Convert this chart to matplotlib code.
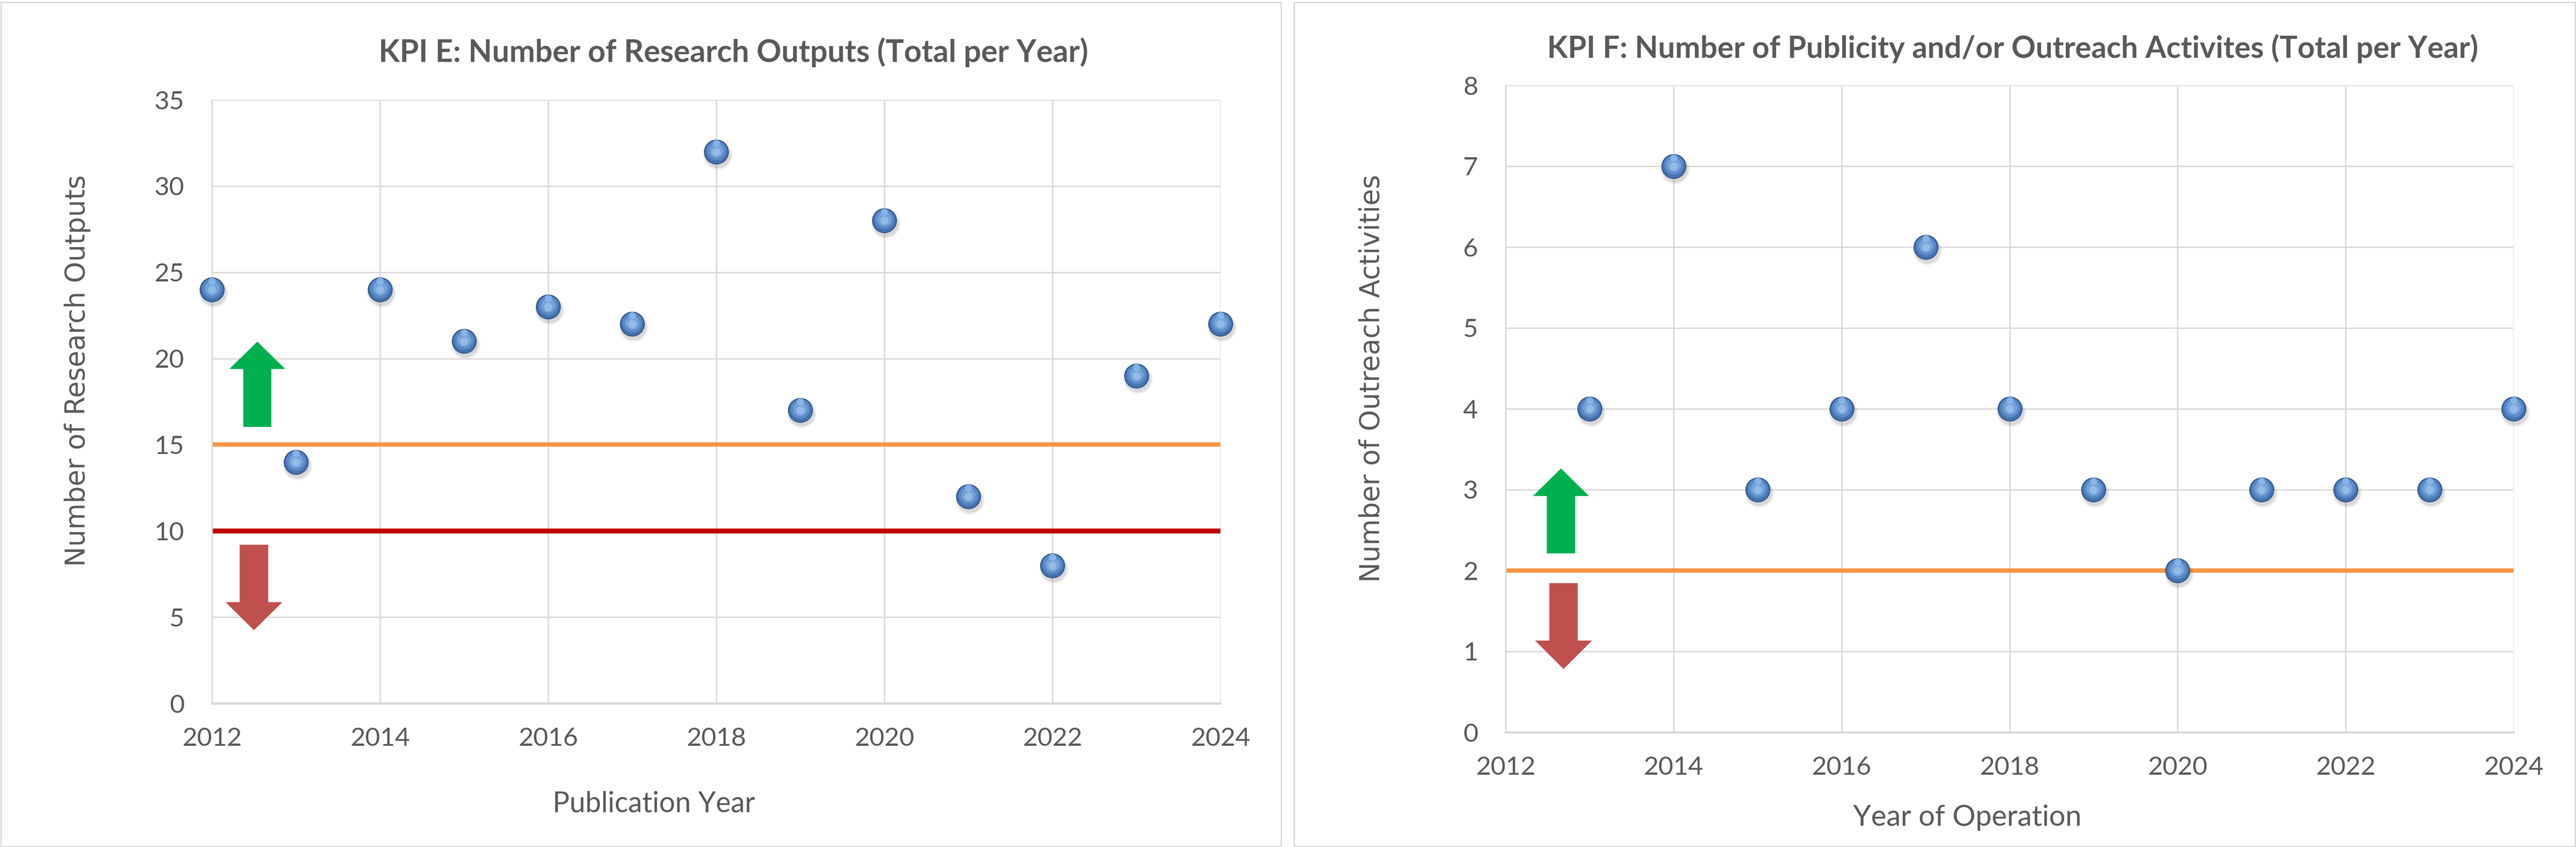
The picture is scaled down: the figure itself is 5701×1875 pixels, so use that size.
import matplotlib
matplotlib.use("Agg")
import matplotlib.pyplot as plt
from matplotlib.patches import Rectangle, Polygon
from matplotlib.transforms import offset_copy

# ---------------- data ----------------
years_e = [2012, 2013, 2014, 2015, 2016, 2017, 2018, 2019, 2020, 2021, 2022, 2023, 2024]
outputs_e = [24, 14, 24, 21, 23, 22, 32, 17, 28, 12, 8, 19, 22]
target_e_upper = 15
target_e_lower = 10

years_f = [2013, 2014, 2015, 2016, 2017, 2018, 2019, 2020, 2021, 2022, 2023, 2024]
outreach_f = [4, 7, 3, 4, 6, 4, 3, 2, 3, 3, 3, 4]
target_f = 2

xticks = [2012, 2014, 2016, 2018, 2020, 2022, 2024]
yticks_e = [0, 5, 10, 15, 20, 25, 30, 35]
yticks_f = [0, 1, 2, 3, 4, 5, 6, 7, 8]

title_e = "KPI E: Number of Research Outputs (Total per Year)"
title_f = "KPI F: Number of Publicity and/or Outreach Activites (Total per Year)"
ylabel_e = "Number of Research Outputs"
ylabel_f = "Number of Outreach Activities"
xlabel_e = "Publication Year"
xlabel_f = "Year of Operation"

# ---------------- style ----------------
TXT = "#595959"
GRID = "#D9D9D9"
ORANGE = "#F79646"
RED = "#C00000"
GREEN_ARROW = "#00B050"
RED_ARROW = "#C0504D"
FONT = ["Lato", "DejaVu Sans"]

W, H = 5701, 1875
fig = plt.figure(figsize=(W / 100, H / 100), dpi=100)
fig.patch.set_facecolor("white")

# panel frames
fig.add_artist(Rectangle((1.5 / W, 1.5 / H), (2836 - 3) / W, (1872 - 3) / H,
                         transform=fig.transFigure, fill=False, ec=GRID, lw=2.2))
fig.add_artist(Rectangle((2864 / W, 1.5 / H), (5699 - 2864) / W, (1872 - 3) / H,
                         transform=fig.transFigure, fill=False, ec=GRID, lw=2.2))

ax_e = fig.add_axes([469 / W, 318 / H, (2701 - 469) / W, (1557 - 221) / H])
ax_f = fig.add_axes([3332 / W, 254 / H, (5563 - 3332) / W, (1621 - 189) / H])


def style_axes(ax, yticks):
    ax.set_xlim(2012, 2024)
    ax.set_ylim(yticks[0], yticks[-1])
    ax.set_xticks(xticks)
    ax.set_yticks(yticks)
    ax.grid(True, color=GRID, lw=2.2, zorder=0)
    ax.set_axisbelow(True)
    for s in ["top", "right"]:
        ax.spines[s].set_visible(False)
    ax.spines["left"].set_color(GRID)
    ax.spines["left"].set_linewidth(2.2)
    ax.spines["bottom"].set_color(GRID)
    ax.spines["bottom"].set_linewidth(3.6)
    ax.tick_params(axis="both", length=0, colors=TXT, labelsize=41)
    ax.tick_params(axis="x", pad=38)
    ax.tick_params(axis="y", pad=44)
    for lab in ax.get_xticklabels() + ax.get_yticklabels():
        lab.set_family(FONT)
        lab.set_color(TXT)


def balls(ax, x, y):
    # soft shadow
    for sz, a in [(66, 0.05), (61, 0.07), (57, 0.09)]:
        tr = offset_copy(ax.transData, fig=fig, x=3, y=-7, units="dots")
        ax.scatter(x, y, s=(sz * 0.72) ** 2, color="#404040", alpha=a,
                   lw=0, transform=tr, zorder=3, clip_on=False)
    ax.scatter(x, y, s=(55 * 0.72) ** 2, color="#2C4F82", lw=0, zorder=4, clip_on=False)
    ax.scatter(x, y, s=(51 * 0.72) ** 2, color="#4673AE", lw=0, zorder=5, clip_on=False)
    tr_up = offset_copy(ax.transData, fig=fig, x=0, y=3, units="dots")
    ax.scatter(x, y, s=(43 * 0.72) ** 2, color="#5A8BC8", lw=0, zorder=6,
               transform=tr_up, clip_on=False)
    ax.scatter(x, y, s=(31 * 0.72) ** 2, color="#74A2D9", lw=0, zorder=7,
               transform=tr_up, clip_on=False)
    ax.scatter(x, y, s=(18 * 0.72) ** 2, color="#94BAE6", lw=0, zorder=8, clip_on=False)
    tr_top = offset_copy(ax.transData, fig=fig, x=0, y=19, units="dots")
    ax.scatter(x, y, s=(16 * 0.72) ** 2, color="#8FBBEE", lw=0, zorder=8,
               transform=tr_top, alpha=0.8, clip_on=False)


def arrow(ax, xc, y_start, y_head, y_tip, head_half, shaft_half, color):
    pts = [(xc - shaft_half, y_start), (xc + shaft_half, y_start),
           (xc + shaft_half, y_head), (xc + head_half, y_head),
           (xc, y_tip), (xc - head_half, y_head), (xc - shaft_half, y_head)]
    ax.add_patch(Polygon(pts, closed=True, fc=color, ec="none", zorder=2))


# ---------- KPI E ----------
style_axes(ax_e, yticks_e)
ax_e.axhline(target_e_upper, color=ORANGE, lw=7.0, zorder=2)
ax_e.axhline(target_e_lower, color=RED, lw=7.9, zorder=2)
balls(ax_e, years_e, outputs_e)
arrow(ax_e, 2012.54, 16.03, 19.39, 20.98, 0.333, 0.167, GREEN_ARROW)
arrow(ax_e, 2012.5, 9.2, 5.87, 4.24, 0.338, 0.17, RED_ARROW)

# ---------- KPI F ----------
style_axes(ax_f, yticks_f)
ax_f.axhline(target_f, color=ORANGE, lw=7.0, zorder=2)
balls(ax_f, years_f, outreach_f)
arrow(ax_f, 2012.66, 2.212, 2.922, 3.263, 0.333, 0.169, GREEN_ARROW)
arrow(ax_f, 2012.69, 1.844, 1.134, 0.782, 0.339, 0.169, RED_ARROW)

# ---------- texts ----------
fig.text(1623 / W, 1 - 116 / H, title_e, ha="center", va="center",
         fontsize=49, fontweight="bold", color=TXT, family=FONT)
fig.text(4454 / W, 1 - 108 / H, title_f, ha="center", va="center",
         fontsize=48, fontweight="bold", color=TXT, family=FONT)
fig.text(172 / W, 1 - 820 / H, ylabel_e, ha="center", va="center", rotation=90,
         fontsize=43, color=TXT, family=["DejaVu Sans"])
fig.text(3037 / W, 1 - 838 / H, ylabel_f, ha="center", va="center", rotation=90,
         fontsize=43, color=TXT, family=["DejaVu Sans"])
fig.text(1447 / W, 1 - 1779 / H, xlabel_e, ha="center", va="center",
         fontsize=45, color=TXT, family=FONT)
fig.text(4354 / W, 1 - 1810 / H, xlabel_f, ha="center", va="center",
         fontsize=46, color=TXT, family=FONT)

fig.savefig("out.png", dpi=100, facecolor="white")
